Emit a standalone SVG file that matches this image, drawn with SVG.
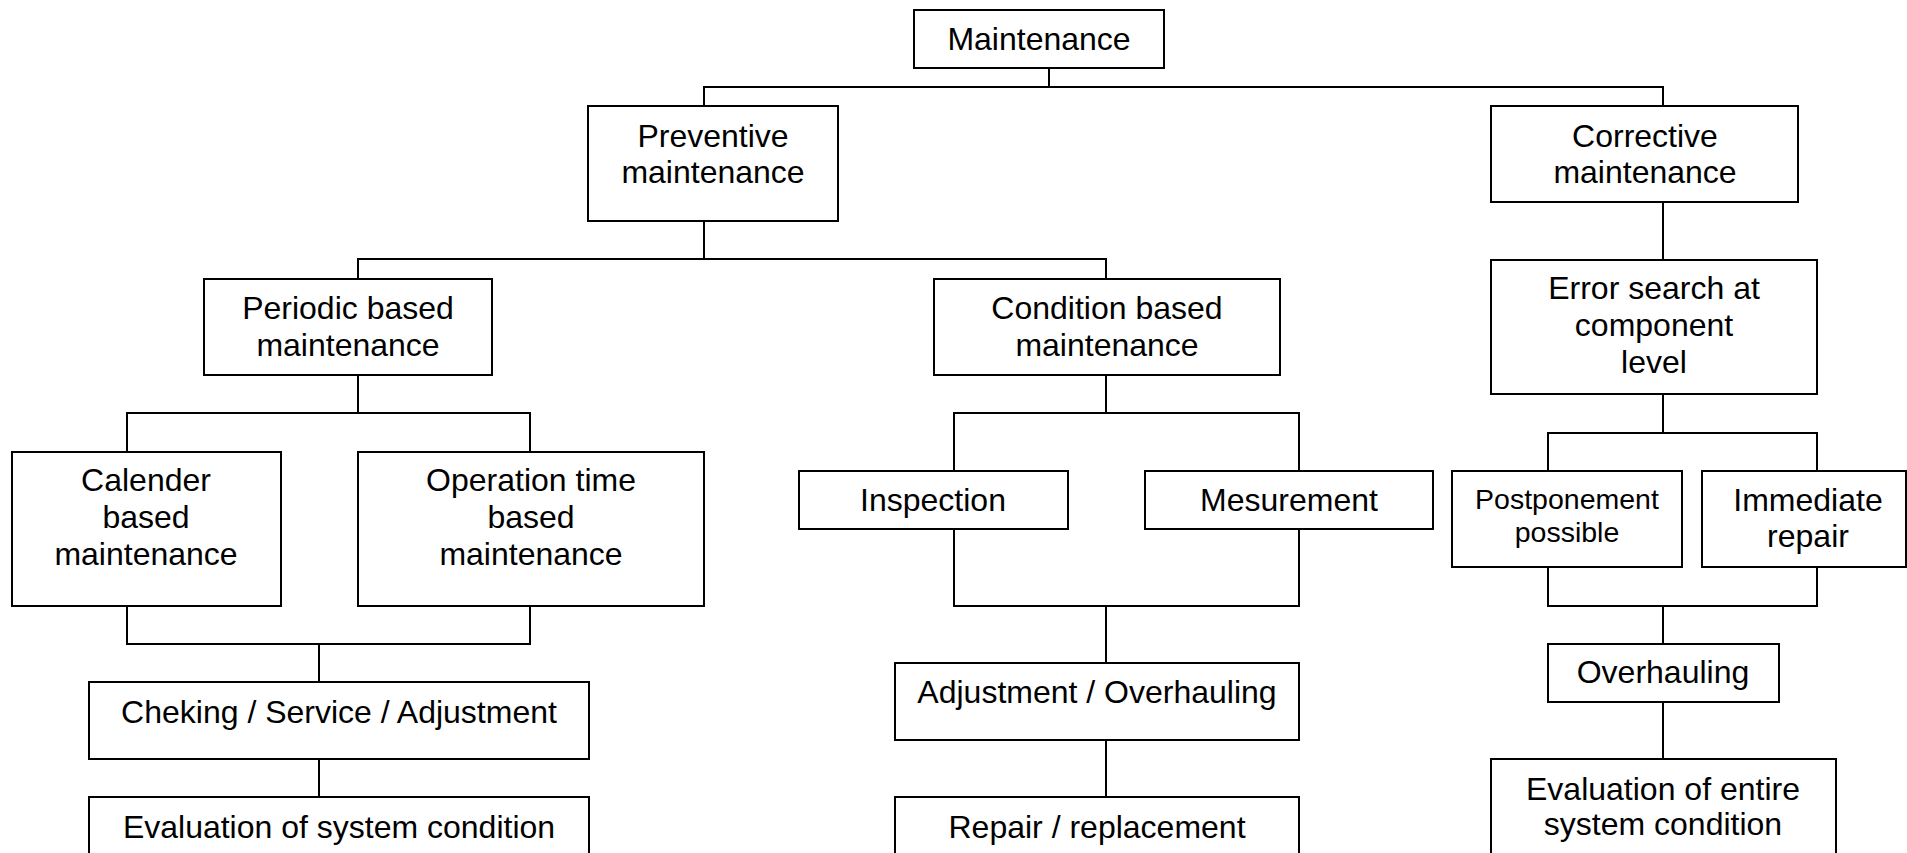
<svg xmlns="http://www.w3.org/2000/svg" width="1907" height="853" viewBox="0 0 1907 853">
<style>
rect{fill:#fff;stroke:#000;stroke-width:2}
text{font-family:"Liberation Sans",Arial,sans-serif;font-size:32px;fill:#000;text-anchor:middle}
.sm{font-size:28.5px}
#connectors path{fill:none;stroke:#000;stroke-width:2}
</style>
<rect x="0" y="0" width="1907" height="853" style="stroke:none"/>
<g id="connectors">
<path d="M1049 68V87M704 106V87H1663V106"/>
<path d="M704 221V259M358 279V259H1106V279"/>
<path d="M358 375V413M127 452V413H530V452"/>
<path d="M127 606V644H530V606M319 644V682M319 759V797"/>
<path d="M1106 375V413M954 471V413H1299V471"/>
<path d="M954 529V606H1299V529M1106 606V663M1106 740V797"/>
<path d="M1663 202V260"/>
<path d="M1663 394V433M1548 471V433H1817V471"/>
<path d="M1548 567V606H1817V567M1663 606V644M1663 702V759"/>
</g>
<g id="maintenance"><rect x="914" y="10" width="250" height="58"/><text x="1039" y="50">Maintenance</text></g>
<g id="preventive"><rect x="588" y="106" width="250" height="115"/><text x="713" y="147">Preventive</text><text x="713" y="183">maintenance</text></g>
<g id="corrective"><rect x="1491" y="106" width="307" height="96"/><text x="1645" y="147">Corrective</text><text x="1645" y="183">maintenance</text></g>
<g id="periodic"><rect x="204" y="279" width="288" height="96"/><text x="348" y="319">Periodic based</text><text x="348" y="356">maintenance</text></g>
<g id="condition"><rect x="934" y="279" width="346" height="96"/><text x="1107" y="319">Condition based</text><text x="1107" y="356">maintenance</text></g>
<g id="errorsearch"><rect x="1491" y="260" width="326" height="134"/><text x="1654" y="299">Error search at</text><text x="1654" y="336">component</text><text x="1654" y="373">level</text></g>
<g id="calender"><rect x="12" y="452" width="269" height="154"/><text x="146" y="491">Calender</text><text x="146" y="528">based</text><text x="146" y="565">maintenance</text></g>
<g id="operation"><rect x="358" y="452" width="346" height="154"/><text x="531" y="491">Operation time</text><text x="531" y="528">based</text><text x="531" y="565">maintenance</text></g>
<g id="checking"><rect x="89" y="682" width="500" height="77"/><text x="339" y="723">Cheking / Service / Adjustment</text></g>
<g id="evalsystem"><rect x="89" y="797" width="500" height="70"/><text x="339" y="838">Evaluation of system condition</text></g>
<g id="inspection"><rect x="799" y="471" width="269" height="58"/><text x="933" y="511">Inspection</text></g>
<g id="mesurement"><rect x="1145" y="471" width="288" height="58"/><text x="1289" y="511">Mesurement</text></g>
<g id="adjustment"><rect x="895" y="663" width="404" height="77"/><text x="1097" y="703">Adjustment / Overhauling</text></g>
<g id="repair"><rect x="895" y="797" width="404" height="70"/><text x="1097" y="838">Repair / replacement</text></g>
<g id="postponement"><rect x="1452" y="471" width="230" height="96"/><text class="sm" x="1567" y="509">Postponement</text><text class="sm" x="1567" y="542">possible</text></g>
<g id="immediate"><rect x="1702" y="471" width="204" height="96"/><text x="1808" y="511">Immediate</text><text x="1808" y="547">repair</text></g>
<g id="overhauling"><rect x="1548" y="644" width="231" height="58"/><text x="1663" y="683">Overhauling</text></g>
<g id="evalentire"><rect x="1491" y="759" width="345" height="108"/><text x="1663" y="800">Evaluation of entire</text><text x="1663" y="835">system condition</text></g>
</svg>
